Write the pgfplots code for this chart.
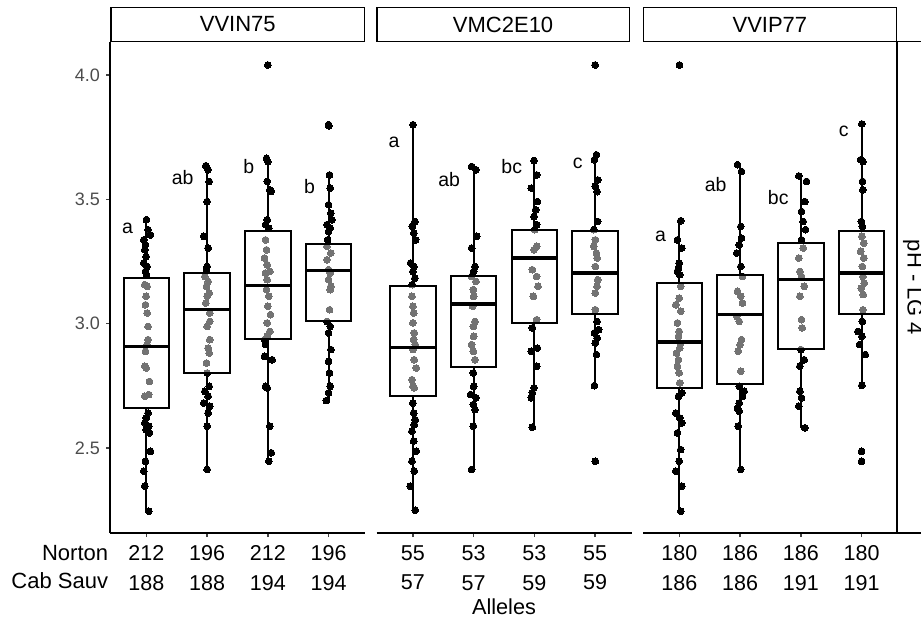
\documentclass[border=0pt]{standalone}
\usepackage{pgfplots}
\pgfplotsset{compat=1.18}
\usepackage{pgfplotstable}
\usepackage{fontspec}
\setmainfont{Liberation Sans}

\pgfplotstableread{
x y
1.000 3.418
1.027 3.378
1.066 3.357
0.956 3.337
0.984 3.317
0.973 3.297
0.995 3.270
0.956 3.244
1.011 3.230
0.984 3.210
1.000 3.197
0.973 3.157
1.011 3.150
0.995 3.110
0.984 3.076
1.011 3.043
1.027 2.989
1.027 2.936
1.011 2.916
0.984 2.889
0.973 2.829
0.995 2.822
1.049 2.768
0.973 2.708
1.038 2.715
1.027 2.641
0.995 2.621
0.973 2.601
1.038 2.588
0.995 2.574
1.049 2.561
1.066 2.487
0.984 2.447
0.956 2.407
0.973 2.347
1.038 2.246
1.978 3.635
2.016 3.619
2.033 3.572
2.000 3.491
1.945 3.351
2.016 3.304
2.000 3.230
1.989 3.217
1.962 3.190
2.016 3.170
1.989 3.150
2.033 3.123
2.000 3.110
1.978 3.083
2.044 3.043
2.044 3.009
2.000 2.989
2.044 2.936
2.016 2.902
2.033 2.882
1.989 2.842
2.000 2.802
2.033 2.748
1.962 2.728
2.016 2.708
1.945 2.681
2.044 2.668
2.016 2.641
2.000 2.588
2.000 2.414
3.000 4.040
2.978 3.665
3.000 3.652
2.989 3.572
3.033 3.538
3.055 3.532
2.989 3.418
2.962 3.398
3.016 3.384
2.962 3.337
2.978 3.297
2.945 3.264
2.989 3.237
3.033 3.210
2.962 3.204
2.989 3.177
2.978 3.137
3.016 3.110
3.000 3.070
3.044 3.036
2.989 3.003
3.033 2.969
2.989 2.949
2.945 2.936
2.962 2.916
2.945 2.869
3.071 2.855
2.962 2.748
2.989 2.742
3.033 2.588
3.055 2.481
3.016 2.447
4.000 3.800
4.005 3.795
4.016 3.598
4.027 3.545
4.000 3.478
4.038 3.444
4.055 3.418
3.973 3.398
4.027 3.384
4.000 3.371
3.984 3.337
3.973 3.311
4.038 3.284
3.973 3.257
4.000 3.217
4.027 3.204
4.000 3.177
4.038 3.150
4.027 3.137
4.016 3.056
3.973 3.009
4.027 2.989
4.000 2.963
4.038 2.896
4.000 2.849
4.016 2.802
4.027 2.748
4.000 2.722
3.962 2.691
}\ptsA

\pgfplotstableread{
x y
1.000 3.800
1.033 3.411
0.989 3.391
1.016 3.364
1.044 3.337
0.962 3.244
1.016 3.230
1.000 3.210
1.033 3.183
0.989 3.157
0.984 3.110
1.000 3.070
1.011 3.043
1.000 3.003
1.022 2.963
1.011 2.936
1.038 2.916
1.000 2.896
1.022 2.855
1.055 2.822
0.984 2.775
1.000 2.748
1.022 2.742
1.000 2.681
1.011 2.641
1.038 2.614
1.022 2.594
0.984 2.568
1.011 2.528
1.055 2.487
0.984 2.447
1.022 2.407
0.956 2.347
1.038 2.250
1.967 3.632
2.038 3.619
2.049 3.351
1.967 3.304
2.022 3.230
2.000 3.210
1.967 3.190
2.038 3.170
1.995 3.137
2.000 3.110
1.984 3.070
2.022 3.009
1.995 2.989
2.000 2.949
1.967 2.916
1.995 2.889
2.022 2.855
1.995 2.802
2.000 2.748
1.951 2.715
2.038 2.702
1.995 2.675
2.022 2.655
1.995 2.588
1.967 2.414
2.995 3.656
3.038 3.598
2.951 3.545
3.049 3.491
3.022 3.458
2.995 3.431
3.038 3.398
3.005 3.378
3.038 3.311
2.995 3.297
2.967 3.217
3.038 3.190
3.060 3.150
2.984 3.110
3.038 3.016
2.967 2.983
3.049 2.902
2.951 2.889
3.038 2.829
2.995 2.742
2.967 2.722
2.951 2.702
2.967 2.584
4.000 4.040
4.022 3.679
3.989 3.659
4.044 3.578
4.005 3.552
4.033 3.531
4.044 3.411
3.978 3.378
4.005 3.337
3.978 3.311
4.022 3.284
4.033 3.264
4.005 3.230
4.044 3.177
4.033 3.150
4.005 3.123
4.005 3.056
4.033 3.009
4.060 2.976
3.989 2.963
4.033 2.942
4.005 2.922
4.022 2.876
3.989 2.751
4.005 2.447
}\ptsB

\pgfplotstableread{
x y
1.000 4.040
1.022 3.414
0.967 3.337
1.038 3.304
0.995 3.244
0.984 3.224
0.967 3.210
1.005 3.197
1.022 3.150
0.995 3.103
0.940 3.076
1.022 3.050
0.967 3.003
0.995 2.969
0.984 2.949
1.022 2.922
1.005 2.902
0.951 2.882
0.984 2.855
0.967 2.829
0.995 2.802
1.005 2.762
1.038 2.722
0.984 2.708
0.940 2.641
1.005 2.621
1.038 2.601
0.967 2.561
1.022 2.494
0.995 2.447
0.940 2.407
1.038 2.347
1.022 2.246
1.956 3.639
2.022 3.612
2.011 3.391
2.022 3.344
1.984 3.317
1.945 3.284
2.011 3.230
2.038 3.190
1.956 3.130
2.011 3.110
2.038 3.083
1.945 3.029
1.984 3.009
2.022 2.936
2.000 2.916
1.967 2.889
2.011 2.809
1.984 2.748
2.066 2.728
2.038 2.708
1.984 2.681
1.956 2.661
1.984 2.648
1.967 2.588
2.011 2.414
2.967 3.594
3.093 3.572
3.066 3.491
3.011 3.451
3.038 3.411
3.077 3.378
3.011 3.337
3.038 3.304
2.967 3.264
2.984 3.210
3.011 3.190
3.055 3.150
2.984 3.110
3.011 3.016
3.022 2.983
3.000 2.896
3.055 2.855
2.984 2.829
2.984 2.728
3.011 2.702
2.967 2.668
3.066 2.581
4.005 3.803
3.984 3.659
4.022 3.652
4.016 3.572
4.022 3.538
3.995 3.411
4.011 3.391
4.005 3.351
4.038 3.324
3.984 3.291
4.038 3.264
4.011 3.230
4.022 3.190
4.044 3.163
3.995 3.143
4.027 3.117
4.022 3.056
4.011 3.009
3.940 2.969
4.005 2.949
3.967 2.916
4.060 2.876
4.005 2.752
4.000 2.487
4.000 2.447
}\ptsC

\pgfplotsset{
  facet/.style={
    width=255pt, height=491pt, scale only axis,
    anchor=south west, clip=false, clip marker paths=true,
    xmin=0.4, xmax=4.6, ymin=2.1586, ymax=4.1325,
    axis x line*=bottom,
    axis line style={line width=1.9pt,-},
    xtick={1,2,3,4},
    tick align=outside, major tick length=4pt,
    tick style={line width=1.4pt, black!75},
    xticklabel style={font=\fontsize{21.5}{29.5}\selectfont, align=center,
      anchor=north, inner sep=0pt, yshift=-8.5pt},
    yticklabel style={font=\fontsize{18}{20}\selectfont, text=black!70,
      anchor=east, inner sep=0pt, xshift=-6pt,
      /pgf/number format/.cd, fixed, fixed zerofill, precision=1,
      assume math mode=true},
  },
  pts/.style={only marks, mark=*, mark size=3.4pt,
    mark options={fill=black, draw=black, line width=0pt}},
}
\tikzset{lab/.style={anchor=base east, font=\fontsize{19.5}{22}\selectfont, inner sep=0pt}}

% #1 lower whisker, #2 lower quartile, #3 median, #4 upper quartile,
% #5 upper whisker, #6 position, #7 box left, #8 box right
\newcommand{\bp}[8]{%
  \addplot[black, line width=1.9pt] coordinates {(#6,#1) (#6,#2)};
  \addplot[black, line width=1.9pt] coordinates {(#6,#4) (#6,#5)};
  \addplot[draw=black, line width=1.9pt, line cap=rect, fill=white, fill opacity=0.45]
    coordinates {(#7,#2) (#8,#2) (#8,#4) (#7,#4) (#7,#2)};
  \addplot[black, line width=3.4pt] coordinates {(#7,#3) (#8,#3)};
}

\begin{document}
\begin{tikzpicture}
\useasboundingbox (0pt,0pt) rectangle (921pt,624pt);

% Panel 1
\begin{axis}[facet, at={(110pt,91pt)}, axis y line*=left,
  ytick={2.5,3.0,3.5,4.0},
  xticklabels={{212\\188},{196\\188},{212\\194},{196\\194}}]
\addplot[pts] table[x=x,y=y] {\ptsA};
\bp{2.246}{2.661}{2.909}{3.183}{3.418}{1}{0.625}{1.375}
\bp{2.414}{2.802}{3.056}{3.204}{3.635}{2}{1.625}{2.375}
\bp{2.447}{2.940}{3.154}{3.371}{3.665}{3}{2.625}{3.375}
\bp{2.691}{3.012}{3.213}{3.320}{3.598}{4}{3.625}{4.375}
\node[lab] at (axis cs:0.78,3.361) {a};
\node[lab] at (axis cs:1.78,3.558) {ab};
\node[lab] at (axis cs:2.78,3.605) {b};
\node[lab] at (axis cs:3.78,3.525) {b};
\end{axis}

% Panel 2
\begin{axis}[facet, at={(376.5pt,91pt)}, axis y line=none, ytick=\empty,
  xticklabels={{55\\57},{53\\57},{53\\59},{55\\59}}]
\addplot[pts] table[x=x,y=y] {\ptsB};
\bp{2.250}{2.708}{2.905}{3.150}{3.800}{1}{0.625}{1.375}
\bp{2.414}{2.825}{3.080}{3.190}{3.632}{2}{1.625}{2.375}
\bp{2.584}{3.003}{3.264}{3.378}{3.656}{3}{2.625}{3.375}
\bp{2.751}{3.040}{3.204}{3.371}{3.679}{4}{3.625}{4.375}
\node[lab] at (axis cs:0.78,3.707) {a};
\node[lab] at (axis cs:1.78,3.551) {ab};
\node[lab] at (axis cs:2.80,3.605) {bc};
\node[lab] at (axis cs:3.80,3.625) {c};
\end{axis}

% Panel 3
\begin{axis}[facet, at={(643pt,91pt)}, axis y line=none, ytick=\empty,
  xticklabels={{180\\186},{186\\186},{186\\191},{180\\191}}]
\addplot[pts] table[x=x,y=y] {\ptsC};
\bp{2.246}{2.742}{2.926}{3.163}{3.414}{1}{0.625}{1.375}
\bp{2.414}{2.758}{3.036}{3.197}{3.639}{2}{1.625}{2.375}
\bp{2.581}{2.900}{3.177}{3.324}{3.594}{3}{2.625}{3.375}
\bp{2.752}{3.040}{3.204}{3.371}{3.803}{4}{3.625}{4.375}
\node[lab] at (axis cs:0.78,3.331) {a};
\node[lab] at (axis cs:1.78,3.531) {ab};
\node[lab] at (axis cs:2.80,3.478) {bc};
\node[lab] at (axis cs:3.79,3.752) {c};
\end{axis}

% strips
\begin{scope}[line width=1.6pt]
\draw (111pt,582.5pt) rectangle (364.5pt,616.5pt);
\draw (376.7pt,582.5pt) rectangle (629.5pt,616.5pt);
\draw (643.3pt,582.5pt) rectangle (896.5pt,616.5pt);
\draw (897pt,91pt) rectangle (930pt,582.5pt);
\end{scope}
\node[font=\fontsize{22}{24}\selectfont] at (237.75pt,599.5pt) {VVIN75};
\node[font=\fontsize{22}{24}\selectfont] at (503.1pt,599.5pt) {VMC2E10};
\node[font=\fontsize{22}{24}\selectfont] at (769.9pt,599.5pt) {VVIP77};
\node[font=\fontsize{22}{24}\selectfont, rotate=-90] at (913pt,336.5pt) {pH - LG 4};

% row labels and axis title
\node[anchor=base east, inner sep=0pt, font=\fontsize{22}{24}\selectfont] at (108.3pt,63.3pt) {Norton};
\node[anchor=base east, inner sep=0pt, font=\fontsize{22}{24}\selectfont] at (108.3pt,35pt) {Cab Sauv};
\node[font=\fontsize{21.7}{24}\selectfont] at (504pt,17pt) {Alleles};
\end{tikzpicture}
\end{document}
